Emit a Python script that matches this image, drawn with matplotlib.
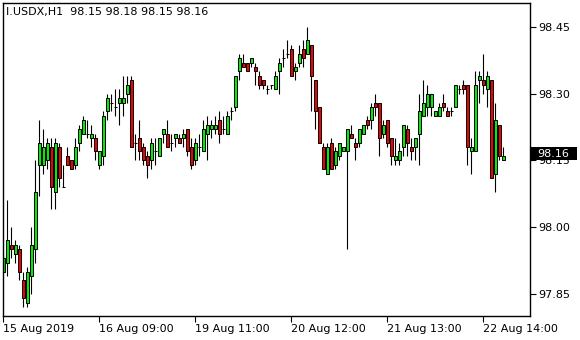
import numpy as np
import matplotlib.pyplot as plt
from matplotlib.patches import Rectangle

# I.USDX H1 - свечи (O, H, L, C)
opens = [97.90, 97.92, 97.96, 97.94, 97.95, 97.88, 97.83, 97.89, 97.95, 98.14,
         98.14, 98.15, 98.18, 98.08, 98.18, 98.09, 98.16, 98.15, 98.14, 98.19,
         98.21, 98.21, 98.20, 98.20, 98.14, 98.16, 98.26, 98.28, 98.27, 98.28,
         98.28, 98.30, 98.33, 98.19, 98.20, 98.18, 98.16, 98.15, 98.17, 98.16,
         98.21, 98.21, 98.19, 98.20, 98.20, 98.20, 98.22, 98.18, 98.15, 98.18,
         98.17, 98.21, 98.22, 98.22, 98.24, 98.22, 98.21, 98.26, 98.27, 98.35,
         98.37, 98.37, 98.37, 98.36, 98.34, 98.33, 98.31, 98.32, 98.31, 98.35,
         98.38, 98.39, 98.40, 98.35, 98.37, 98.40, 98.39, 98.41, 98.33, 98.27,
         98.18, 98.12, 98.19, 98.14, 98.16, 98.17, 98.17, 98.21, 98.19, 98.19,
         98.21, 98.24, 98.24, 98.28, 98.28, 98.21, 98.24, 98.20, 98.15, 98.15,
         98.18, 98.22, 98.18, 98.18, 98.21, 98.25, 98.27, 98.27, 98.25, 98.25,
         98.28, 98.26, 98.26, 98.27, 98.31, 98.32, 98.32, 98.17, 98.17, 98.33,
         98.33, 98.31, 98.33, 98.12, 98.23, 98.15]
highs = [97.94, 98.06, 98.00, 97.97, 97.96, 97.90, 97.91, 98.00, 98.15, 98.24,
         98.22, 98.20, 98.20, 98.20, 98.19, 98.14, 98.18, 98.15, 98.20, 98.23,
         98.25, 98.24, 98.23, 98.21, 98.17, 98.26, 98.30, 98.30, 98.31, 98.31,
         98.34, 98.34, 98.34, 98.21, 98.24, 98.19, 98.17, 98.20, 98.20, 98.20,
         98.22, 98.24, 98.21, 98.21, 98.21, 98.22, 98.22, 98.20, 98.20, 98.21,
         98.24, 98.25, 98.24, 98.25, 98.26, 98.25, 98.26, 98.27, 98.34, 98.39,
         98.39, 98.37, 98.38, 98.37, 98.35, 98.33, 98.32, 98.32, 98.35, 98.38,
         98.40, 98.42, 98.41, 98.37, 98.41, 98.42, 98.45, 98.41, 98.33, 98.27,
         98.19, 98.19, 98.20, 98.18, 98.19, 98.18, 98.22, 98.23, 98.20, 98.22,
         98.23, 98.25, 98.28, 98.30, 98.28, 98.24, 98.24, 98.20, 98.20, 98.19,
         98.23, 98.23, 98.20, 98.20, 98.30, 98.33, 98.32, 98.30, 98.26, 98.28,
         98.30, 98.27, 98.27, 98.32, 98.32, 98.33, 98.32, 98.20, 98.35, 98.35,
         98.39, 98.35, 98.33, 98.28, 98.23, 98.18]
lows = [97.90, 97.89, 97.93, 97.92, 97.88, 97.82, 97.82, 97.85, 97.92, 98.07,
        98.12, 98.13, 98.04, 98.04, 98.09, 98.09, 98.14, 98.13, 98.13, 98.17,
        98.21, 98.20, 98.18, 98.15, 98.13, 98.14, 98.24, 98.26, 98.25, 98.23,
        98.25, 98.28, 98.18, 98.15, 98.15, 98.14, 98.11, 98.13, 98.14, 98.16,
        98.19, 98.18, 98.17, 98.18, 98.19, 98.18, 98.16, 98.13, 98.14, 98.16,
        98.17, 98.15, 98.20, 98.21, 98.19, 98.21, 98.21, 98.24, 98.26, 98.33,
        98.36, 98.35, 98.36, 98.32, 98.31, 98.31, 98.30, 98.31, 98.31, 98.30,
        98.36, 98.38, 98.34, 98.33, 98.36, 98.36, 98.39, 98.26, 98.22, 98.19,
        98.13, 98.12, 98.13, 98.13, 98.15, 98.17, 97.95, 98.20, 98.15, 98.18,
        98.21, 98.22, 98.22, 98.25, 98.16, 98.20, 98.18, 98.14, 98.14, 98.14,
        98.16, 98.16, 98.15, 98.15, 98.14, 98.25, 98.25, 98.25, 98.25, 98.25,
        98.26, 98.25, 98.25, 98.27, 98.30, 98.30, 98.14, 98.12, 98.17, 98.28,
        98.30, 98.27, 98.11, 98.08, 98.15, 98.15]
closes = [97.93, 97.97, 97.95, 97.96, 97.90, 97.84, 97.90, 97.96, 98.08, 98.19,
          98.18, 98.19, 98.09, 98.19, 98.11, 98.09, 98.14, 98.13, 98.18, 98.22,
          98.24, 98.21, 98.21, 98.17, 98.17, 98.25, 98.29, 98.28, 98.27, 98.29,
          98.29, 98.32, 98.18, 98.19, 98.17, 98.15, 98.14, 98.19, 98.17, 98.20,
          98.22, 98.18, 98.19, 98.21, 98.19, 98.21, 98.17, 98.14, 98.19, 98.18,
          98.22, 98.23, 98.23, 98.23, 98.21, 98.22, 98.25, 98.26, 98.34, 98.38,
          98.36, 98.35, 98.38, 98.35, 98.32, 98.32, 98.31, 98.32, 98.34, 98.37,
          98.38, 98.39, 98.34, 98.36, 98.39, 98.38, 98.42, 98.34, 98.26, 98.19,
          98.13, 98.18, 98.13, 98.17, 98.19, 98.18, 98.22, 98.20, 98.18, 98.22,
          98.23, 98.23, 98.27, 98.27, 98.20, 98.23, 98.19, 98.16, 98.16, 98.17,
          98.23, 98.19, 98.17, 98.20, 98.26, 98.28, 98.30, 98.30, 98.26, 98.27,
          98.27, 98.25, 98.26, 98.32, 98.31, 98.31, 98.18, 98.18, 98.32, 98.34,
          98.32, 98.34, 98.11, 98.24, 98.16, 98.16]

tick_bars = [0, 24, 48, 72, 96, 120]
tick_labels = ['15 Aug 2019', '16 Aug 09:00', '19 Aug 11:00',
               '20 Aug 12:00', '21 Aug 13:00', '22 Aug 14:00']
price_ticks = [97.85, 98.00, 98.15, 98.30, 98.45]
title = 'I.USDX,H1  98.15 98.18 98.15 98.16'
last_price = 98.16

o = np.array(opens)
h = np.array(highs)
l = np.array(lows)
c = np.array(closes)
x = np.arange(len(o))

W, H = 580, 340
fig = plt.figure(figsize=(W / 100, H / 100), dpi=100)
ax = fig.add_axes([3 / W, 24 / H, 527 / W, 313 / H])

# тени
ax.vlines(x, l, h, color='black', linewidth=0.8, zorder=1)

# тела свечей
colors = np.where(c >= o, '#00ee00', '#ee0000')
ax.bar(x, c - o, bottom=o, width=0.8, color=colors,
       edgecolor='black', linewidth=0.7, zorder=2)

ax.set_xlim(-0.1, 131.65)
ax.set_ylim(97.800, 98.504)

ax.yaxis.tick_right()
ax.set_yticks(price_ticks)
ax.set_yticklabels(['%.2f' % p for p in price_ticks])
ax.set_xticks(tick_bars)
ax.set_xticklabels(tick_labels, ha='left')
ax.tick_params(axis='both', direction='out', length=4, width=0.8,
               labelsize=8, colors='black', pad=2)
for s in ax.spines.values():
    s.set_linewidth(1.0)
    s.set_color('black')

ax.text(0.006, 0.972, title, transform=ax.transAxes, fontsize=8,
        va='center', ha='left')

# метка текущей цены поверх шкалы
y_last = ax.transData.transform((0, last_price))[1] / (H)
box_h = 13 / H
fig.patches.append(Rectangle((531 / W, y_last - box_h * 0.35), 46 / W, box_h,
                             transform=fig.transFigure, facecolor='black',
                             edgecolor='none', zorder=5))
fig.text(537 / W, y_last + box_h * 0.15, '%.2f' % last_price, fontsize=8,
         color='white', va='center', ha='left', zorder=6)

fig.savefig('out.png', dpi=100)
